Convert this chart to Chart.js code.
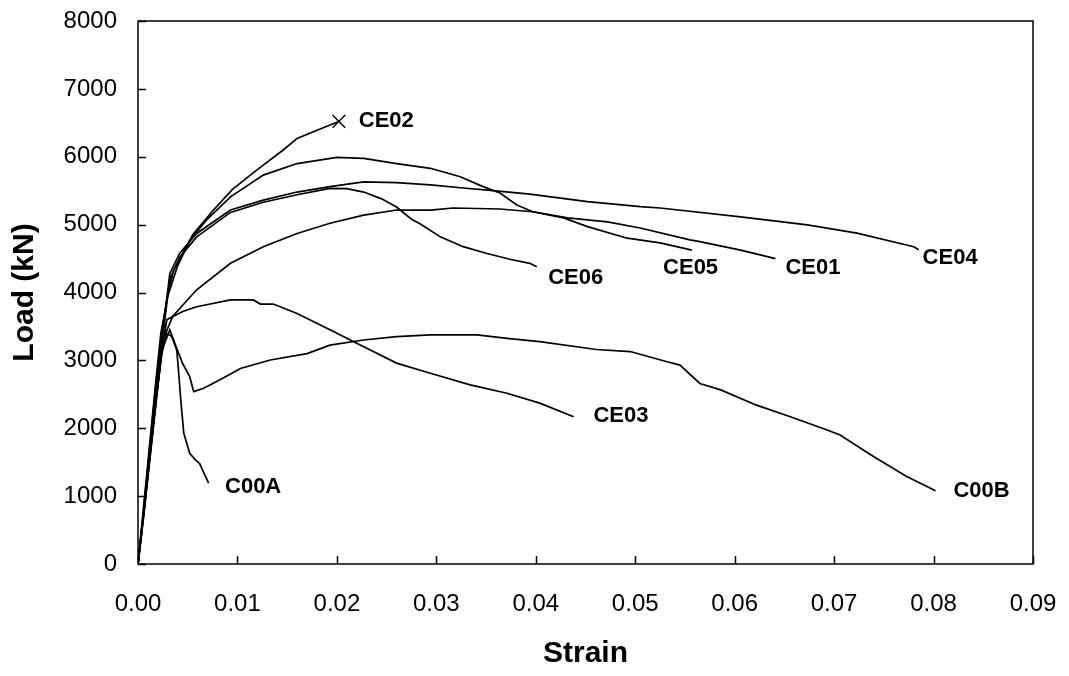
<!DOCTYPE html>
<html>
<head>
<meta charset="utf-8">
<script src="https://cdn.jsdelivr.net/npm/chart.js@4"></script>
<style>
  html, body { margin: 0; padding: 0; background: #fff; }
  #wrap { width: 1069px; height: 676px; }
</style>
</head>
<body>
<div id="wrap"><canvas id="chart" width="1069" height="676"></canvas></div>
<script>
// values (strain, load in kN)
const ce02Strain = [0, 0.0006, 0.0012, 0.0018, 0.0023, 0.003, 0.004, 0.0055, 0.0075, 0.0095, 0.0119, 0.0146, 0.016, 0.018, 0.0202];
const ce02Load   = [0, 900, 1800, 2700, 3400, 3950, 4400, 4850, 5200, 5520, 5800, 6100, 6270, 6390, 6520];

const ce05Strain = [0, 0.0006, 0.0012, 0.0018, 0.0024, 0.003, 0.0036, 0.0052, 0.0069, 0.0093, 0.0126, 0.016, 0.020, 0.0227, 0.026, 0.0294, 0.0324, 0.0347, 0.0364, 0.0381, 0.0397, 0.0428, 0.0452, 0.0492, 0.0525, 0.0557];
const ce05Load   = [0, 850, 1750, 2650, 3400, 4000, 4330, 4770, 5070, 5410, 5730, 5900, 5990, 5975, 5900, 5830, 5705, 5560, 5465, 5290, 5190, 5100, 4970, 4800, 4730, 4625];

const ce04Strain = [0, 0.0006, 0.0012, 0.0018, 0.0024, 0.0032, 0.0042, 0.0059, 0.0093, 0.0126, 0.016, 0.0193, 0.0227, 0.026, 0.0294, 0.0327, 0.0357, 0.0394, 0.0452, 0.0505, 0.0525, 0.0606, 0.0673, 0.0723, 0.078, 0.0785];
const ce04Load   = [0, 800, 1650, 2500, 3300, 4280, 4580, 4870, 5215, 5360, 5480, 5560, 5630, 5620, 5585, 5540, 5500, 5450, 5340, 5265, 5245, 5115, 4995, 4875, 4675, 4630];

const ce06Strain = [0, 0.0006, 0.0012, 0.0018, 0.0024, 0.0032, 0.0042, 0.0059, 0.0093, 0.0126, 0.016, 0.0193, 0.021, 0.0227, 0.0245, 0.026, 0.0275, 0.0284, 0.0304, 0.0327, 0.0351, 0.0374, 0.0394, 0.0401];
const ce06Load   = [0, 750, 1600, 2450, 3250, 4200, 4520, 4820, 5180, 5330, 5440, 5534, 5530, 5480, 5380, 5260, 5080, 5010, 4820, 4675, 4575, 4490, 4430, 4380];

const ce01Strain = [0, 0.0006, 0.0012, 0.0018, 0.0025, 0.0035, 0.0059, 0.0093, 0.0126, 0.016, 0.0193, 0.0227, 0.026, 0.0294, 0.0317, 0.0364, 0.0397, 0.0432, 0.0472, 0.0505, 0.0555, 0.0565, 0.0606, 0.0641];
const ce01Load   = [0, 750, 1550, 2350, 3300, 3650, 4040, 4430, 4675, 4870, 5020, 5140, 5215, 5215, 5245, 5230, 5190, 5100, 5040, 4950, 4775, 4750, 4625, 4500];

const ce03Strain = [0, 0.0006, 0.0012, 0.0018, 0.0024, 0.0029, 0.0045, 0.0059, 0.0093, 0.0116, 0.0123, 0.0136, 0.016, 0.0193, 0.0227, 0.026, 0.0294, 0.0334, 0.037, 0.0404, 0.0438];
const ce03Load   = [0, 800, 1600, 2400, 3150, 3600, 3720, 3790, 3890, 3890, 3830, 3830, 3690, 3450, 3200, 2960, 2810, 2640, 2520, 2370, 2170];

const c00aStrain = [0, 0.0006, 0.0012, 0.0018, 0.0024, 0.0029, 0.0034, 0.0039, 0.0041, 0.0043, 0.0046, 0.0052, 0.0058, 0.0062, 0.0066, 0.0071];
const c00aLoad   = [0, 800, 1600, 2400, 3100, 3400, 3350, 3150, 2800, 2420, 1930, 1630, 1530, 1480, 1350, 1190];

const c00bStrain = [0, 0.0006, 0.0012, 0.0018, 0.0024, 0.0032, 0.0037, 0.0045, 0.0052, 0.0056, 0.0066, 0.0082, 0.0103, 0.0133, 0.017, 0.0193, 0.0227, 0.026, 0.0294, 0.0341, 0.0371, 0.0404, 0.0461, 0.0495, 0.0532, 0.0545, 0.0565, 0.0586, 0.0622, 0.0656, 0.0693, 0.0706, 0.074, 0.0773, 0.0802];
const c00bLoad   = [0, 800, 1600, 2400, 3150, 3450, 3250, 2950, 2760, 2540, 2590, 2710, 2880, 3005, 3100, 3225, 3300, 3350, 3375, 3375, 3325, 3275, 3160, 3130, 2980, 2930, 2660, 2565, 2340, 2170, 1975, 1900, 1580, 1290, 1080];

const seriesNames = ['CE02', 'CE05', 'CE04', 'CE06', 'CE01', 'CE03', 'C00A', 'C00B'];
// where each curve's name is written (strain, load)
const labelStrain = [0.0222, 0.0528, 0.0789, 0.04125, 0.0651, 0.0458, 0.00875, 0.082];
const labelLoad   = [6525, 4360, 4507, 4213, 4360, 2180, 1134, 1075];

const xTicks = [0, 0.01, 0.02, 0.03, 0.04, 0.05, 0.06, 0.07, 0.08, 0.09];
const yTicks = [0, 1000, 2000, 3000, 4000, 5000, 6000, 7000, 8000];

const allStrain = [ce02Strain, ce05Strain, ce04Strain, ce06Strain, ce01Strain, ce03Strain, c00aStrain, c00bStrain];
const allLoad = [ce02Load, ce05Load, ce04Load, ce06Load, ce01Load, ce03Load, c00aLoad, c00bLoad];

function toPoints(xs, ys) {
  return xs.map((x, i) => ({x: x, y: ys[i]}));
}

const datasets = seriesNames.map((name, i) => ({
  label: name,
  data: toPoints(allStrain[i], allLoad[i]),
  borderColor: '#000',
  borderWidth: 1.7,
  tension: 0,
  pointRadius: name === 'CE02' ? (c => c.dataIndex === allStrain[i].length - 1 ? 9 : 0) : 0,
  pointStyle: 'crossRot',
  pointBorderColor: '#000',
  pointBorderWidth: 1.4
}));

// frame, inward tick marks and curve names
const decorations = {
  id: 'decorations',
  afterDatasetsDraw(chart) {
    const ctx = chart.ctx;
    const a = chart.chartArea;
    const xs = chart.scales.x;
    const ys = chart.scales.y;
    ctx.save();
    ctx.strokeStyle = '#000';
    ctx.lineWidth = 1.5;
    ctx.strokeRect(a.left, a.top, a.right - a.left, a.bottom - a.top);
    ctx.beginPath();
    yTicks.forEach(v => {
      const py = Math.round(ys.getPixelForValue(v)) + 0.5;
      ctx.moveTo(a.left, py);
      ctx.lineTo(a.left + 8, py);
    });
    xTicks.forEach(v => {
      const px = Math.round(xs.getPixelForValue(v)) + 0.5;
      ctx.moveTo(px, a.bottom);
      ctx.lineTo(px, a.bottom - 8);
    });
    ctx.stroke();
    ctx.fillStyle = '#000';
    ctx.font = 'bold 22px "Liberation Sans", Arial, sans-serif';
    ctx.textAlign = 'left';
    ctx.textBaseline = 'middle';
    seriesNames.forEach((name, i) => {
      ctx.fillText(name, xs.getPixelForValue(labelStrain[i]), ys.getPixelForValue(labelLoad[i]));
    });
    ctx.restore();
  }
};

new Chart(document.getElementById('chart'), {
  type: 'line',
  data: {datasets: datasets},
  plugins: [decorations],
  options: {
    responsive: false,
    animation: false,
    events: [],
    layout: {padding: {left: 0, top: 21, right: 36, bottom: 0}},
    plugins: {legend: {display: false}, tooltip: {enabled: false}},
    scales: {
      x: {
        type: 'linear',
        min: 0,
        max: 0.09,
        afterFit(scale) {
          scale.height = 112;
          scale.paddingLeft = 0;
          scale.paddingRight = 0;
        },
        afterBuildTicks(scale) { scale.ticks = xTicks.map(v => ({value: v})); },
        grid: {display: false, drawTicks: false},
        border: {display: false},
        ticks: {
          padding: 26,
          color: '#000',
          font: {family: '"Liberation Sans", Arial, sans-serif', size: 24},
          callback: v => v.toFixed(2)
        },
        title: {
          display: true,
          text: 'Strain',
          color: '#000',
          padding: {top: 0, bottom: 4},
          font: {family: '"Liberation Sans", Arial, sans-serif', size: 30, weight: 'bold'}
        }
      },
      y: {
        type: 'linear',
        min: 0,
        max: 8000,
        afterFit(scale) {
          scale.width = 138;
          scale.paddingTop = 0;
          scale.paddingBottom = 0;
        },
        afterBuildTicks(scale) { scale.ticks = yTicks.map(v => ({value: v})); },
        grid: {display: false, drawTicks: false},
        border: {display: false},
        ticks: {
          padding: 21,
          color: '#000',
          font: {family: '"Liberation Sans", Arial, sans-serif', size: 24},
          callback: v => String(v)
        },
        title: {
          display: true,
          text: 'Load (kN)',
          color: '#000',
          padding: {top: 7, bottom: 0},
          font: {family: '"Liberation Sans", Arial, sans-serif', size: 30, weight: 'bold'}
        }
      }
    }
  }
});
</script>
</body>
</html>
